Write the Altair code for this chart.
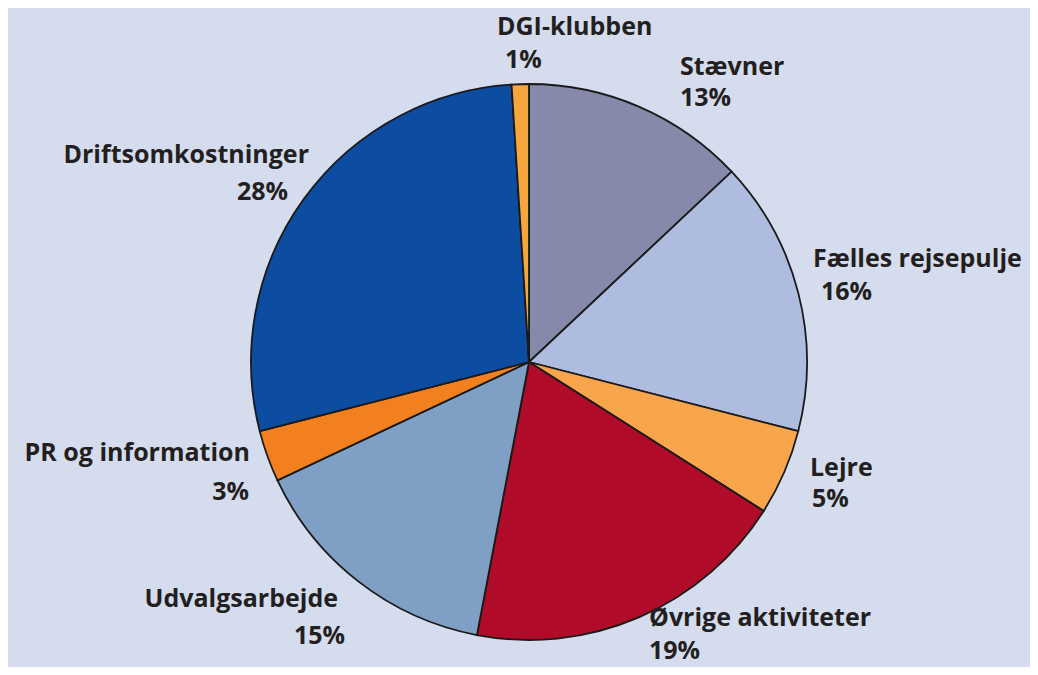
import altair as alt
import pandas as pd

# --- data ---
categories = ["Stævner", "Fælles rejsepulje", "Lejre", "Øvrige aktiviteter",
              "Udvalgsarbejde", "PR og information", "Driftsomkostninger", "DGI-klubben"]
values = [13, 16, 5, 19, 15, 3, 28, 1]
pct_labels = ["13%", "16%", "5%", "19%", "15%", "3%", "28%", "1%"]
colors = ["#8789ab", "#adbcdf", "#f9a54b", "#b00b28", "#7f9fc4", "#f2801f", "#0c4ca1", "#f7a53d"]

# --- label layout (chart pixel coords, not data) ---
name_x = [672, 805, 802, 641, 330, 242, 301, 489]
name_y = [67, 259, 468, 618, 599, 453, 155, 27]
pct_x = [672, 813, 804, 641, 337, 241, 280, 497]
pct_y = [98, 292, 499, 651, 636, 492, 192, 60]
aligns = ["left", "left", "left", "left", "right", "right", "right", "left"]

df = pd.DataFrame({
    "cat": categories, "value": values, "pct": pct_labels, "idx": list(range(len(categories))),
    "nx": name_x, "ny": name_y, "px": pct_x, "py": pct_y, "al": aligns,
})

W, H = 1022, 659
CX, CY, R = 521, 354, 278
FONT = "Open Sans"
TXT = "#231f20"
FS = 25

base = alt.Chart(df)

pie = base.mark_arc(outerRadius=R, stroke="#1a1a1a", strokeWidth=1.8).encode(
    theta=alt.Theta("value:Q", stack=True),
    color=alt.Color("cat:N", scale=alt.Scale(domain=categories, range=colors), legend=None),
    order=alt.Order("idx:Q"),
    x=alt.value(CX), y=alt.value(CY),
)

layers = [pie]
for al in ["left", "right"]:
    sub = base.transform_filter(alt.datum.al == al)
    layers.append(sub.mark_text(align=al, baseline="alphabetic", font=FONT, fontSize=FS,
                                fontWeight="bold", color=TXT).encode(
        x=alt.X("nx:Q", scale=None), y=alt.Y("ny:Q", scale=None), text="cat:N"))
    layers.append(sub.mark_text(align=al, baseline="alphabetic", font=FONT, fontSize=FS,
                                fontWeight="bold", color=TXT).encode(
        x=alt.X("px:Q", scale=None), y=alt.Y("py:Q", scale=None), text="pct:N"))

chart = alt.layer(*layers).properties(
    width=W, height=H, autosize="none", padding=0, background="#d5dcee"
).configure_view(strokeWidth=0)

chart.save("out.html", embed_options={"renderer": "svg", "actions": False})
